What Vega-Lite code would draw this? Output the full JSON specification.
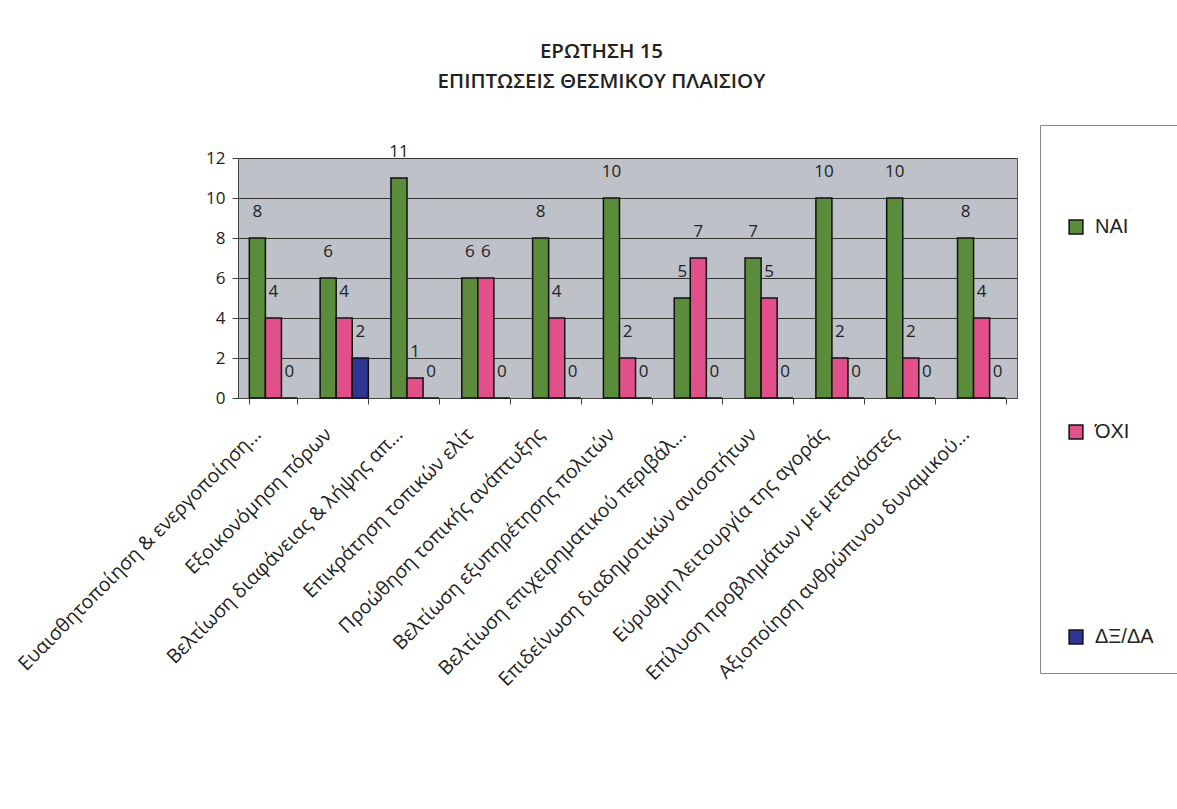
{
  "$schema": "https://vega.github.io/schema/vega-lite/v6.json",
  "autosize": {"type": "none"},
  "width": 779,
  "height": 240,
  "padding": {"left": 238, "top": 158, "right": 160, "bottom": 411},
  "background": "#ffffff",
  "title": {
    "text": ["ΕΡΩΤΗΣΗ 15", "ΕΠΙΠΤΩΣΕΙΣ ΘΕΣΜΙΚΟΥ ΠΛΑΙΣΙΟΥ"],
    "anchor": "middle",
    "frame": "group",
    "dx": -26,
    "offset": 32,
    "font": "Open Sans",
    "fontSize": 20.5,
    "fontWeight": 600,
    "lineHeight": 30,
    "color": "#222222"
  },
  "config": {
    "view": {"fill": "#bfc1c9", "stroke": "#555555", "strokeWidth": 1},
    "font": "Open Sans"
  },
  "data": {
    "values": [
      {"cat": "Ευαισθητοποίηση & ενεργοποίηση...", "series": "ΝΑΙ", "value": 8},
      {"cat": "Ευαισθητοποίηση & ενεργοποίηση...", "series": "ΌΧΙ", "value": 4},
      {"cat": "Ευαισθητοποίηση & ενεργοποίηση...", "series": "ΔΞ/ΔΑ", "value": 0},
      {"cat": "Εξοικονόμηση πόρων", "series": "ΝΑΙ", "value": 6},
      {"cat": "Εξοικονόμηση πόρων", "series": "ΌΧΙ", "value": 4},
      {"cat": "Εξοικονόμηση πόρων", "series": "ΔΞ/ΔΑ", "value": 2},
      {"cat": "Βελτίωση διαφάνειας & λήψης απ...", "series": "ΝΑΙ", "value": 11},
      {"cat": "Βελτίωση διαφάνειας & λήψης απ...", "series": "ΌΧΙ", "value": 1},
      {"cat": "Βελτίωση διαφάνειας & λήψης απ...", "series": "ΔΞ/ΔΑ", "value": 0},
      {"cat": "Επικράτηση τοπικών ελίτ", "series": "ΝΑΙ", "value": 6},
      {"cat": "Επικράτηση τοπικών ελίτ", "series": "ΌΧΙ", "value": 6},
      {"cat": "Επικράτηση τοπικών ελίτ", "series": "ΔΞ/ΔΑ", "value": 0},
      {"cat": "Προώθηση τοπικής ανάπτυξης", "series": "ΝΑΙ", "value": 8},
      {"cat": "Προώθηση τοπικής ανάπτυξης", "series": "ΌΧΙ", "value": 4},
      {"cat": "Προώθηση τοπικής ανάπτυξης", "series": "ΔΞ/ΔΑ", "value": 0},
      {"cat": "Βελτίωση εξυπηρέτησης πολιτών", "series": "ΝΑΙ", "value": 10},
      {"cat": "Βελτίωση εξυπηρέτησης πολιτών", "series": "ΌΧΙ", "value": 2},
      {"cat": "Βελτίωση εξυπηρέτησης πολιτών", "series": "ΔΞ/ΔΑ", "value": 0},
      {"cat": "Βελτίωση επιχειρηματικού περιβάλ...", "series": "ΝΑΙ", "value": 5},
      {"cat": "Βελτίωση επιχειρηματικού περιβάλ...", "series": "ΌΧΙ", "value": 7},
      {"cat": "Βελτίωση επιχειρηματικού περιβάλ...", "series": "ΔΞ/ΔΑ", "value": 0},
      {"cat": "Επιδείνωση διαδημοτικών ανισοτήτων", "series": "ΝΑΙ", "value": 7},
      {"cat": "Επιδείνωση διαδημοτικών ανισοτήτων", "series": "ΌΧΙ", "value": 5},
      {"cat": "Επιδείνωση διαδημοτικών ανισοτήτων", "series": "ΔΞ/ΔΑ", "value": 0},
      {"cat": "Εύρυθμη λειτουργία της αγοράς", "series": "ΝΑΙ", "value": 10},
      {"cat": "Εύρυθμη λειτουργία της αγοράς", "series": "ΌΧΙ", "value": 2},
      {"cat": "Εύρυθμη λειτουργία της αγοράς", "series": "ΔΞ/ΔΑ", "value": 0},
      {"cat": "Επίλυση προβλημάτων με μετανάστες", "series": "ΝΑΙ", "value": 10},
      {"cat": "Επίλυση προβλημάτων με μετανάστες", "series": "ΌΧΙ", "value": 2},
      {"cat": "Επίλυση προβλημάτων με μετανάστες", "series": "ΔΞ/ΔΑ", "value": 0},
      {"cat": "Αξιοποίηση ανθρώπινου δυναμικού...", "series": "ΝΑΙ", "value": 8},
      {"cat": "Αξιοποίηση ανθρώπινου δυναμικού...", "series": "ΌΧΙ", "value": 4},
      {"cat": "Αξιοποίηση ανθρώπινου δυναμικού...", "series": "ΔΞ/ΔΑ", "value": 0}
    ]
  },
  "encoding": {
    "x": {
      "field": "cat",
      "type": "nominal",
      "sort": null,
      "scale": {"paddingInner": 0.32, "paddingOuter": 0.16},
      "axis": {
        "title": null,
        "labelAngle": -45,
        "labelAlign": "right",
        "labelBaseline": "middle",
        "labelFont": "Open Sans",
        "labelFontSize": 19.5,
        "labelColor": "#222222",
        "labelLimit": 0,
        "labelPadding": 27,
        "labelOffset": -16,
        "tickBand": "extent",
        "tickSize": 6,
        "tickColor": "#444444",
        "domainColor": "#444444",
        "grid": false
      }
    },
    "xOffset": {
      "field": "series",
      "type": "nominal",
      "sort": ["ΝΑΙ", "ΌΧΙ", "ΔΞ/ΔΑ"],
      "scale": {"paddingInner": 0, "paddingOuter": 0}
    },
    "y": {
      "field": "value",
      "type": "quantitative",
      "scale": {"domain": [0, 12]},
      "axis": {
        "title": null,
        "values": [0, 2, 4, 6, 8, 10, 12],
        "labelFont": "Open Sans",
        "labelFontSize": 17,
        "labelColor": "#222222",
        "labelPadding": 7,
        "tickSize": 6,
        "tickColor": "#444444",
        "domainColor": "#444444",
        "grid": true,
        "gridColor": "#333333",
        "gridWidth": 1
      }
    }
  },
  "layer": [
    {
      "mark": {"type": "bar", "stroke": "#111111", "strokeWidth": 1.5},
      "encoding": {
        "color": {
          "field": "series",
          "type": "nominal",
          "sort": ["ΝΑΙ", "ΌΧΙ", "ΔΞ/ΔΑ"],
          "scale": {"domain": ["ΝΑΙ", "ΌΧΙ", "ΔΞ/ΔΑ"], "range": ["#5a8c3b", "#e2508a", "#2e3592"]},
          "legend": {
            "title": " ",
            "titleFontSize": 12,
            "titlePadding": 54,
            "orient": "none",
            "legendX": 802,
            "legendY": -33,
            "padding": 26,
            "strokeColor": "#888888",
            "fillColor": "#ffffff",
            "symbolType": "square",
            "symbolSize": 190,
            "symbolStrokeColor": "#111111",
            "symbolStrokeWidth": 1.5,
            "symbolOpacity": 1,
            "labelFont": "Liberation Sans",
            "labelFontSize": 20,
            "labelOffset": 9,
            "labelColor": "#222222",
            "rowPadding": 185
          }
        }
      }
    },
    {
      "mark": {"type": "text", "dy": -26, "font": "Open Sans", "fontSize": 17, "color": "#222222"},
      "encoding": {"text": {"field": "value", "type": "quantitative"}}
    }
  ]
}
